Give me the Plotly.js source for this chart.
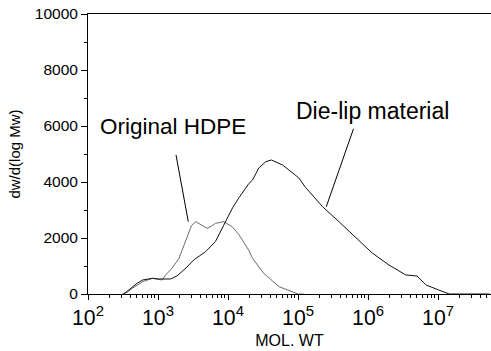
<!DOCTYPE html>
<html>
<head>
<meta charset="utf-8">
<script src="https://cdn.plot.ly/plotly-3.0.1.min.js"></script>
<style>html,body{margin:0;padding:0;background:#fff;}#chart{width:491px;height:351px;}</style>
</head>
<body>
<div id="chart"></div>
<script>
// Original HDPE
const hdpeMW = [309, 363, 427, 501, 603, 832, 1000, 1148, 1288, 1585, 1995, 2630, 3020, 3467, 4266, 5012, 5754, 6607, 8710, 11482, 14454, 19953, 22387, 32359, 53703, 83176, 100000, 120000];
const hdpeW  = [0, 60, 200, 300, 440, 560, 530, 500, 680, 918, 1274, 2048, 2450, 2583, 2464, 2345, 2420, 2524, 2583, 2405, 2107, 1550, 1274, 739, 261, 82, 0, 0];

// Die-lip material
const dieMW = [324, 407, 501, 603, 832, 1023, 1514, 1862, 2512, 3236, 4786, 6607, 7943, 9333, 11749, 14454, 19953, 22387, 27542, 34674, 41687, 60256, 74131, 102329, 128825, 223872, 389045, 676083, 1148154, 1995262, 3467369, 5011872, 6760830, 10232930, 14454398, 54954087];
const dieW  = [0, 200, 380, 500, 560, 536, 536, 643, 929, 1214, 1512, 1870, 2250, 2583, 3100, 3450, 3952, 4071, 4500, 4725, 4786, 4607, 4429, 4150, 3800, 3119, 2571, 2000, 1464, 1036, 679, 643, 321, 143, 0, 0];

const labels = ["Original HDPE", "Die-lip material"];
const yTickVals = [0, 2000, 4000, 6000, 8000, 10000];
const yTickText = ["0", "2000", "4000", "6000", "8000", "10000"];

const font = {family: "Liberation Sans, Arial, sans-serif", color: "#000"};

const traces = [
  {x: hdpeMW, y: hdpeW, type: "scatter", mode: "lines", name: labels[0],
   line: {color: "#6a6a6a", width: 1}},
  {x: dieMW, y: dieW, type: "scatter", mode: "lines", name: labels[1],
   line: {color: "#111", width: 1}}
];

const layout = {
  width: 491, height: 351,
  margin: {l: 88, r: 0, t: 14, b: 57, pad: 0},
  paper_bgcolor: "#fff", plot_bgcolor: "#fff",
  showlegend: false,
  font: Object.assign({size: 15}, font),
  xaxis: {
    type: "log", range: [2, 7.757],
    dtick: 1, exponentformat: "power",
    showgrid: false, zeroline: false,
    showline: true, linecolor: "#000", linewidth: 1, mirror: true,
    ticks: "outside", ticklen: 5, tickwidth: 1, tickcolor: "#000",
    minor: {dtick: "D1", ticks: "outside", ticklen: 3, tickcolor: "#000", showgrid: false},
    tickfont: Object.assign({size: 17}, font),
    title: {text: "MOL. WT", font: Object.assign({size: 16}, font), standoff: 6}
  },
  yaxis: {
    range: [0, 10000],
    tickvals: yTickVals, ticktext: yTickText,
    showgrid: false, zeroline: false,
    showline: true, linecolor: "#000", linewidth: 1,
    ticks: "outside", ticklen: 6, tickwidth: 1, tickcolor: "#000",
    minor: {dtick: 1000, ticks: "outside", ticklen: 3, tickcolor: "#000", showgrid: false},
    tickfont: Object.assign({size: 15.5}, font),
    title: {text: "dw/d(log Mw)", font: Object.assign({size: 15}, font), standoff: 10}
  },
  annotations: [
    {x: 3.214, y: 6000, xref: "x", yref: "y", text: labels[0], showarrow: false,
     font: Object.assign({size: 22.5}, font)},
    {x: 6.071, y: 6536, xref: "x", yref: "y", text: labels[1], showarrow: false,
     font: Object.assign({size: 23}, font)},
    {x: 3.433, y: 2582, ax: 3.253, ay: 5025, xref: "x", yref: "y", axref: "x", ayref: "y",
     text: "", showarrow: true, arrowhead: 0, arrowwidth: 1, arrowcolor: "#000", standoff: 0, startstandoff: 0},
    {x: 5.404, y: 3118, ax: 5.80, ay: 5954, xref: "x", yref: "y", axref: "x", ayref: "y",
     text: "", showarrow: true, arrowhead: 0, arrowwidth: 1, arrowcolor: "#000", standoff: 0, startstandoff: 0}
  ]
};

Plotly.newPlot("chart", traces, layout, {displayModeBar: false, staticPlot: true});
</script>
</body>
</html>
